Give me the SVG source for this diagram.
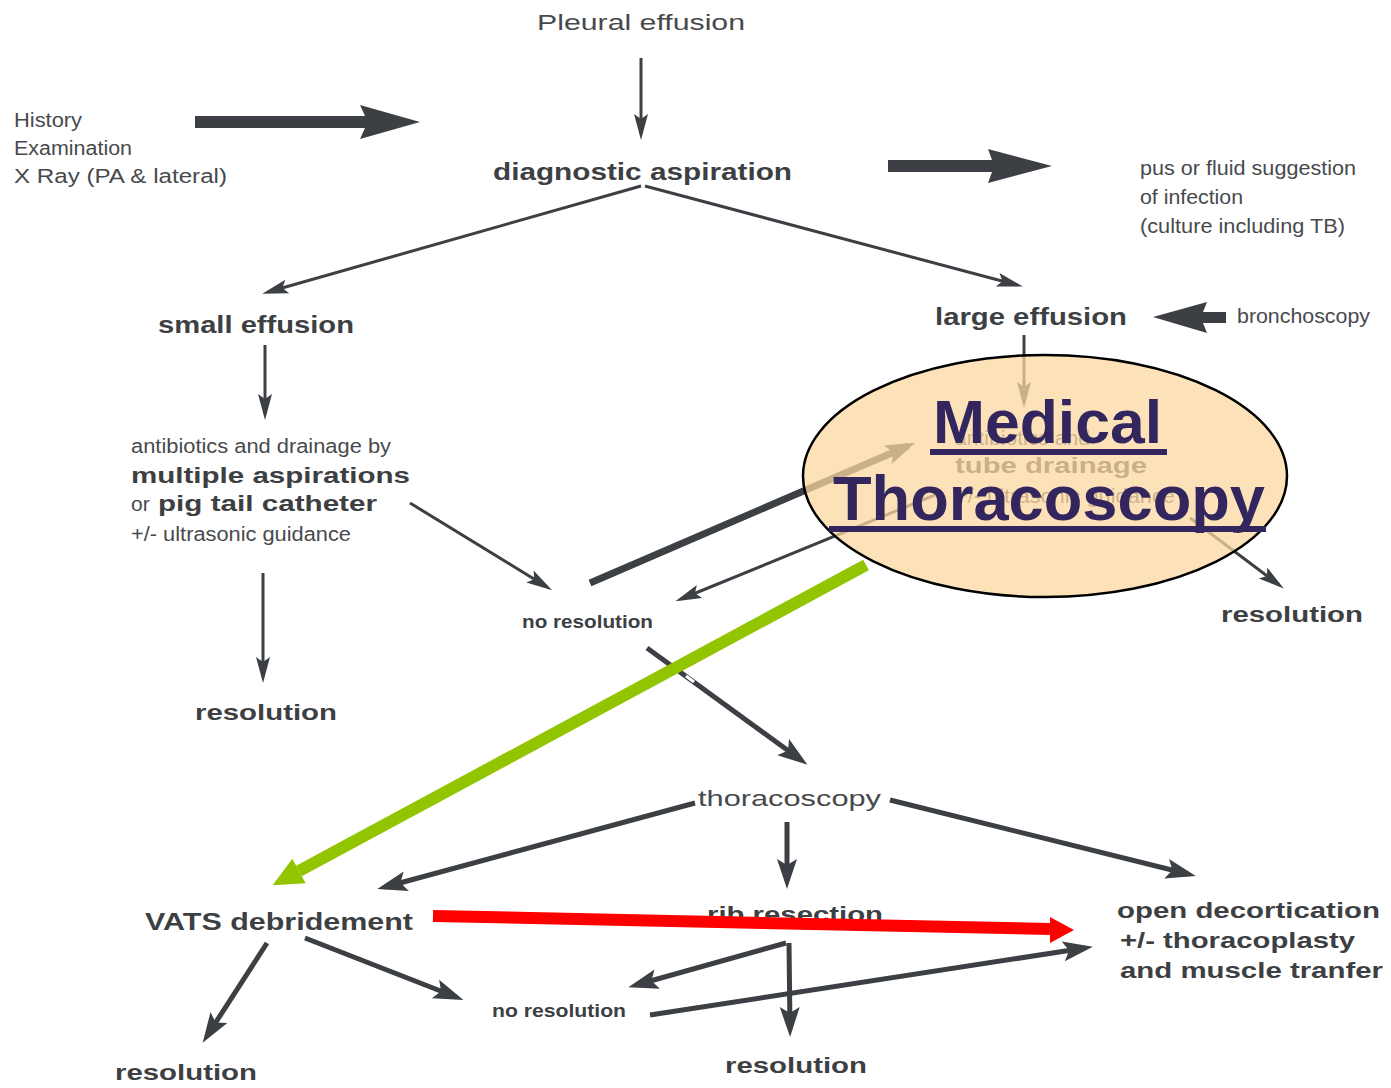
<svg xmlns="http://www.w3.org/2000/svg" width="1391" height="1088" viewBox="0 0 1391 1088">
<defs>
<style>
.t{font-family:"Liberation Sans",Arial,sans-serif;fill:#474a4d;}
.b{font-family:"Liberation Sans",Arial,sans-serif;font-weight:bold;fill:#3d4043;}
.c{fill:none;stroke:#3c3f43;stroke-linecap:butt;}
.s3{stroke-width:3;}
.s5{stroke-width:5;}
.s7{stroke-width:7;}
.blk{fill:#3c3f43;}
.mt{font-family:"Liberation Sans",Arial,sans-serif;font-weight:bold;fill:#33265f;}
</style>
<marker id="a3" markerUnits="userSpaceOnUse" markerWidth="26" markerHeight="14" refX="20" refY="7" orient="auto" overflow="visible">
<path d="M0,0 L26,7 L0,14 L5,7 z" fill="#3c3f43"/>
</marker>
<marker id="a6" markerUnits="userSpaceOnUse" markerWidth="30" markerHeight="20" refX="22" refY="10" orient="auto" overflow="visible">
<path d="M0,0 L30,10 L0,20 L6,10 z" fill="#3c3f43"/>
</marker>
<marker id="agrn" markerUnits="userSpaceOnUse" markerWidth="30" markerHeight="28" refX="0" refY="14" orient="auto" overflow="visible">
<path d="M0,0 L30,14 L0,28 z" fill="#92c500"/>
</marker>
</defs>
<rect width="1391" height="1088" fill="#ffffff"/>

<g id="connectors">
<line class="c s3" x1="641" y1="58" x2="641" y2="134" marker-end="url(#a3)"/>
<polygon class="blk" points="195,116 365,116 360,105 420,122 360,139 365,128 195,128"/>
<polygon class="blk" points="888,160 992,160 988,149 1052,166 988,183 992,172 888,172"/>
<polygon class="blk" points="1153,317 1207,302 1203,312 1226,312 1226,323 1203,323 1207,333"/>
<line class="c s3" x1="641" y1="186" x2="268" y2="292" marker-end="url(#a3)"/>
<line class="c s3" x1="645" y1="186" x2="1017" y2="285" marker-end="url(#a3)"/>
<line class="c s3" x1="1024" y1="335" x2="1024" y2="402" marker-end="url(#a3)"/>
<line class="c s3" x1="265" y1="345" x2="265" y2="414" marker-end="url(#a3)"/>
<line class="c s3" x1="410" y1="503" x2="547" y2="587" marker-end="url(#a3)"/>
<line class="c s3" x1="263" y1="573" x2="263" y2="677" marker-end="url(#a3)"/>
<line class="c s7" x1="590" y1="583" x2="908" y2="446" marker-end="url(#a6)"/>
<line class="c s3" x1="935" y1="495" x2="681" y2="599" marker-end="url(#a3)"/>
<line class="c s3" x1="1190" y1="518" x2="1279" y2="585" marker-end="url(#a3)"/>
<line class="c s5" x1="647" y1="648" x2="801" y2="760" marker-end="url(#a6)"/>
<line class="c s5" x1="695" y1="803" x2="385" y2="887" marker-end="url(#a6)"/>
<line class="c s5" x1="787" y1="822" x2="787" y2="881" marker-end="url(#a6)"/>
<line class="c s5" x1="890" y1="800" x2="1188" y2="874" marker-end="url(#a6)"/>
<line class="c s5" x1="267" y1="943" x2="207" y2="1036" marker-end="url(#a6)"/>
<line class="c s5" x1="305" y1="938" x2="456" y2="997" marker-end="url(#a6)"/>
<line class="c s5" x1="786" y1="943" x2="636" y2="985" marker-end="url(#a6)"/>
<line class="c s5" x1="789" y1="943" x2="790" y2="1029" marker-end="url(#a6)"/>
<line class="c s5" x1="650" y1="1015" x2="1085" y2="948" marker-end="url(#a6)"/>
</g>

<g id="node-pleural"><text class="t" x="537" y="30" font-size="22" textLength="208" lengthAdjust="spacingAndGlyphs">Pleural effusion</text></g>
<g id="node-history">
<text class="t" x="14" y="127" font-size="20" textLength="68" lengthAdjust="spacingAndGlyphs">History</text>
<text class="t" x="14" y="155" font-size="20" textLength="118" lengthAdjust="spacingAndGlyphs">Examination</text>
<text class="t" x="14" y="183" font-size="20" textLength="213" lengthAdjust="spacingAndGlyphs">X Ray (PA &amp; lateral)</text>
</g>
<g id="node-diagnostic"><text class="b" x="493" y="180" font-size="23" textLength="299" lengthAdjust="spacingAndGlyphs">diagnostic aspiration</text></g>
<g id="node-pus">
<text class="t" x="1140" y="175" font-size="20" textLength="216" lengthAdjust="spacingAndGlyphs">pus or fluid suggestion</text>
<text class="t" x="1140" y="204" font-size="20" textLength="103" lengthAdjust="spacingAndGlyphs">of infection</text>
<text class="t" x="1140" y="233" font-size="20" textLength="205" lengthAdjust="spacingAndGlyphs">(culture including TB)</text>
</g>
<g id="node-small"><text class="b" x="158" y="333" font-size="23" textLength="196" lengthAdjust="spacingAndGlyphs">small effusion</text></g>
<g id="node-large"><text class="b" x="935" y="325" font-size="23" textLength="192" lengthAdjust="spacingAndGlyphs">large effusion</text></g>
<g id="node-bronchoscopy"><text class="t" x="1237" y="323" font-size="20" textLength="133" lengthAdjust="spacingAndGlyphs">bronchoscopy</text></g>
<g id="node-antibiotics">
<text class="t" x="131" y="453" font-size="20" textLength="260" lengthAdjust="spacingAndGlyphs">antibiotics and drainage by</text>
<text class="b" x="131" y="483" font-size="22" textLength="279" lengthAdjust="spacingAndGlyphs">multiple aspirations</text>
<text class="t" x="131" y="511" font-size="21">or</text>
<text class="b" x="158" y="511" font-size="22" textLength="219" lengthAdjust="spacingAndGlyphs">pig tail catheter</text>
<text class="t" x="131" y="541" font-size="20" textLength="220" lengthAdjust="spacingAndGlyphs">+/- ultrasonic guidance</text>
</g>
<g id="node-resolution-1"><text class="b" x="195" y="720" font-size="22" textLength="142" lengthAdjust="spacingAndGlyphs">resolution</text></g>
<g id="node-noresolution-1"><text class="b" x="522" y="628" font-size="19" textLength="131" lengthAdjust="spacingAndGlyphs">no resolution</text></g>
<g id="node-resolution-2"><text class="b" x="1221" y="622" font-size="22" textLength="142" lengthAdjust="spacingAndGlyphs">resolution</text></g>
<g id="node-tube">
<text class="t" x="955" y="445" font-size="20" textLength="135" lengthAdjust="spacingAndGlyphs">antibiotics and</text>
<text class="b" x="955" y="473" font-size="22" textLength="192" lengthAdjust="spacingAndGlyphs">tube drainage</text>
<text class="t" x="955" y="503" font-size="20" textLength="220" lengthAdjust="spacingAndGlyphs">+/- ultrasonic guidance</text>
</g>
<g id="node-thoracoscopy"><text class="t" x="698" y="806" font-size="22" textLength="183" lengthAdjust="spacingAndGlyphs">thoracoscopy</text></g>
<g id="node-vats"><text class="b" x="145" y="930" font-size="23" textLength="268" lengthAdjust="spacingAndGlyphs">VATS debridement</text></g>
<g id="node-rib"><text class="b" x="707" y="922" font-size="22" textLength="176" lengthAdjust="spacingAndGlyphs">rib resection</text></g>
<g id="node-open">
<text class="b" x="1117" y="918" font-size="22" textLength="263" lengthAdjust="spacingAndGlyphs">open decortication</text>
<text class="b" x="1120" y="948" font-size="22" textLength="235" lengthAdjust="spacingAndGlyphs">+/- thoracoplasty</text>
<text class="b" x="1120" y="978" font-size="22" textLength="263" lengthAdjust="spacingAndGlyphs">and muscle tranfer</text>
</g>
<g id="node-noresolution-2"><text class="b" x="492" y="1017" font-size="19" textLength="134" lengthAdjust="spacingAndGlyphs">no resolution</text></g>
<g id="node-resolution-3"><text class="b" x="115" y="1080" font-size="22" textLength="142" lengthAdjust="spacingAndGlyphs">resolution</text></g>
<g id="node-resolution-4"><text class="b" x="725" y="1073" font-size="22" textLength="142" lengthAdjust="spacingAndGlyphs">resolution</text></g>

<g id="node-medical-thoracoscopy">
<ellipse cx="1045" cy="476" rx="242" ry="121" fill="#fcd8a0" fill-opacity="0.74" stroke="#000000" stroke-width="2.5"/>
<text class="mt" x="933" y="443" font-size="62" textLength="229" lengthAdjust="spacingAndGlyphs">Medical</text>
<rect x="930" y="449" width="237" height="6" fill="#33265f"/>
<text class="mt" x="833" y="520" font-size="63" textLength="432" lengthAdjust="spacingAndGlyphs">Thoracoscopy</text>
<rect x="829" y="526" width="437" height="6" fill="#33265f"/>
</g>

<g id="highlight-arrows">
<line x1="433" y1="916" x2="1050" y2="929" stroke="#ff0000" stroke-width="12"/>
<polygon points="1050,917 1074,930 1050,943" fill="#ff0000"/>
<line x1="866" y1="565" x2="299" y2="871" stroke="#92c500" stroke-width="12" marker-end="url(#agrn)"/>
<line x1="686" y1="676" x2="694" y2="682" stroke="#ffffff" stroke-width="3"/>
</g>
</svg>
